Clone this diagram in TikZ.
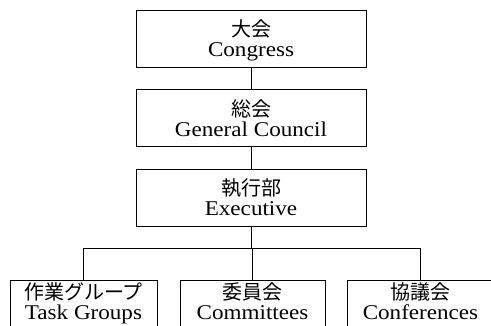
\documentclass[tikz,border=0pt]{standalone}
\usepackage{fontspec}
\setmainfont[FakeStretch=1.1]{Liberation Serif}
\newfontfamily\jfont{Noto Sans CJK JP}
\begin{document}
\begin{tikzpicture}[x=1pt,y=-1pt,
  line width=1pt,
  box/.style={draw, line width=1pt, minimum height=57pt, inner sep=0pt, anchor=north},
  jp/.style={anchor=base, inner sep=0pt, font=\jfont\fontsize{20}{22}\selectfont},
  en/.style={anchor=base, inner sep=0pt, font=\fontsize{21}{22}\selectfont}]
\useasboundingbox (0,0) rectangle (491,326);
\clip (0,0) rectangle (491,326);
% top boxes
\node[box, minimum width=230pt] (congress) at (251,10) {};
\node[jp] (congressj) at (251,37) {大会};
\node[en] (congresse) at (251,57) {Congress};
\node[box, minimum width=230pt] (council) at (251,89.5) {};
\node[jp] (councilj) at (251,116.5) {総会};
\node[en] (councile) at (251,136.5) {General Council};
\node[box, minimum width=230pt] (exec) at (251,169) {};
\node[jp] (execj) at (251,196) {執行部};
\node[en] (exece) at (251,216) {Executive};
% bottom boxes
\node[box, minimum width=147pt] (task) at (83.5,280) {};
\node[jp] (taskj) at (83.5,299.5) {作業グループ};
\node[en] (taske) at (83.5,320) {Task Groups};
\node[box, minimum width=145pt] (comm) at (252.5,280) {};
\node[jp] (commj) at (252.5,299.5) {委員会};
\node[en] (comme) at (252.5,320) {Committees};
\node[box, minimum width=147pt] (conf) at (420.5,280) {};
\node[jp] (confj) at (420.5,299.5) {協議会};
\node[en] (confe) at (420.5,320) {Conferences};
% connectors
\coordinate (bus) at (251,249);
\draw (congress.south) -- (council.north);
\draw (council.south) -- (exec.north);
\draw (exec.south) -- (exec.south |- bus);
\draw (comm.north) -- (comm.north |- bus);
\draw (task.north) -- (task.north |- bus) -- (conf.north |- bus) -- (conf.north);
\end{tikzpicture}
\end{document}
